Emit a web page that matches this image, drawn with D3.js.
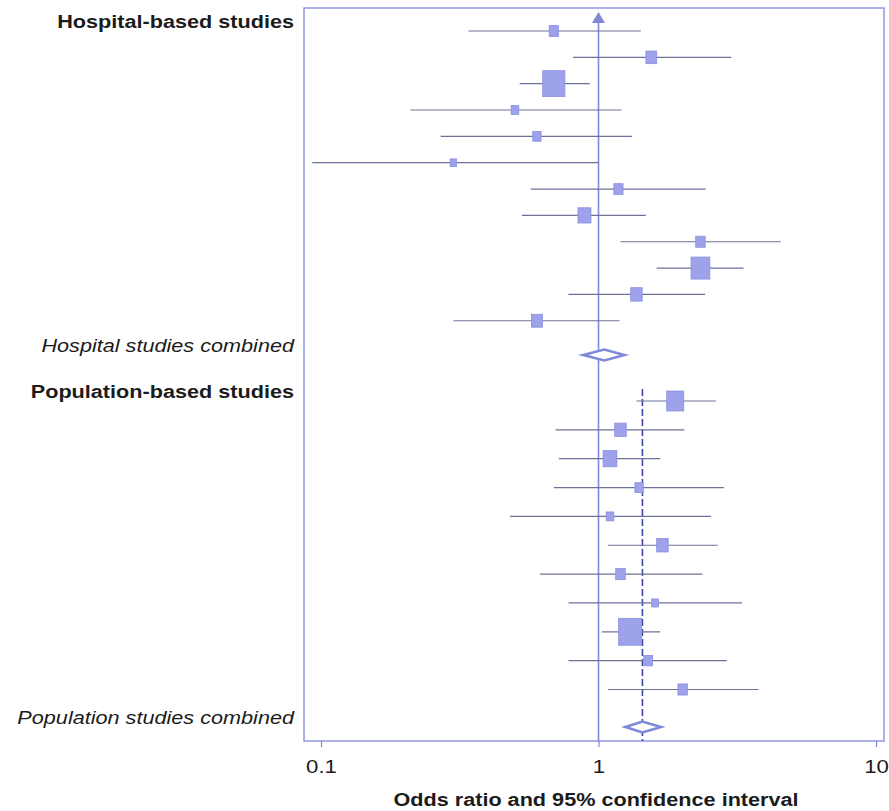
<!DOCTYPE html>
<html>
<head>
<meta charset="utf-8">
<script src="https://cdn.jsdelivr.net/npm/d3@7"></script>
<style>
  body { margin: 0; background: #fff; }
  text { font-family: "Liberation Sans", Arial, Helvetica, sans-serif; fill: #1b1b1b; }
</style>
</head>
<body>
<div id="chart"></div>
<script>
// odds ratios, 95% CI bounds and weights (%)
// hospital-based studies
const hospitalOR     = [0.69, 1.55, 0.69, 0.50, 0.60, 0.30,  1.18, 0.89, 2.33, 2.33, 1.37, 0.60]
const hospitalLower  = [0.34, 0.81, 0.52, 0.21, 0.27, 0.093, 0.57, 0.53, 1.20, 1.62, 0.78, 0.30]
const hospitalUpper  = [1.42, 3.01, 0.93, 1.21, 1.32, 1.00,  2.43, 1.48, 4.54, 3.33, 2.42, 1.19]
const hospitalWeight = [1.6,  2.2,  9.3,  1.1,  1.3,  0.8,   1.6,  3.2,  1.7,  6.7,  2.5,  2.3]
const hospitalCombined = [1.05, 0.88, 1.24] // OR, lower, upper

// population-based studies
const populationOR     = [1.89, 1.20, 1.10, 1.40, 1.10, 1.70, 1.20,  1.60, 1.30, 1.51, 2.01]
const populationLower  = [1.37, 0.70, 0.72, 0.69, 0.48, 1.08, 0.615, 0.78, 1.03, 0.78, 1.08]
const populationUpper  = [2.65, 2.04, 1.67, 2.83, 2.54, 2.69, 2.37,  3.29, 1.67, 2.90, 3.77]
const populationWeight = [5.5,  2.5,  3.6,  1.3,  1.1,  2.5,  1.7,   0.9,  10,   1.5,  1.7]
const populationCombined = [1.44, 1.25, 1.68]

const groupTitles = ["Hospital-based studies", "Population-based studies"]
const combinedTitles = ["Hospital studies combined", "Population studies combined"]
const tickValues = [0.1, 1, 10]
const axisTitle = "Odds ratio and 95% confidence interval"

// page size and the plot frame
const width = 889
const height = 811
const frame = { left: 304, right: 884, top: 8, bottom: 741 }
const labelX = 294
// text in the scan is a bit wider than Arial, so stretch it sideways
const stretch = 1.17

const blue = "#8088da"
const ciColor = "#6d7199"
const boxFill = "#9ea2ea"
const boxStroke = "#8a8fdf"

// build one table per group
function makeRows(or, lo, hi, w) {
  return or.map((d, i) => ({ or: d, lo: lo[i], hi: hi[i], w: w[i] }))
}
const groups = [
  { title: groupTitles[0], combinedTitle: combinedTitles[0], rows: makeRows(hospitalOR, hospitalLower, hospitalUpper, hospitalWeight),
    combined: hospitalCombined, top: 31, bottom: 355, dashed: false },
  { title: groupTitles[1], combinedTitle: combinedTitles[1], rows: makeRows(populationOR, populationLower, populationUpper, populationWeight),
    combined: populationCombined, top: 401, bottom: 727, dashed: true }
]

const x = d3.scaleLog()
  .domain([0.1, 10])
  .range([321, 876])

// box width follows the square root of the weight
const boxScale = d3.scaleSqrt()
  .domain([0, 10])
  .range([0, 23])

const svg = d3.select('#chart')
  .append('svg')
  .attr('width', width)
  .attr('height', height)

// frame round the plot
svg.append('rect')
  .attr('x', frame.left)
  .attr('y', frame.top)
  .attr('width', frame.right - frame.left)
  .attr('height', frame.bottom - frame.top)
  .attr('fill', 'none')
  .attr('stroke', blue)
  .attr('stroke-width', 1.3)

// line of no effect with an arrow at the top
svg.append('line')
  .attr('x1', x(1)).attr('x2', x(1))
  .attr('y1', 18).attr('y2', frame.bottom)
  .attr('stroke', blue)
  .attr('stroke-width', 1.6)

svg.append('path')
  .attr('d', `M${x(1)},12 L${x(1) - 6.5},23 L${x(1) + 6.5},23 Z`)
  .attr('fill', blue)

// stretched text helper, anchored at (tx, ty)
function addText(parent, tx, ty, str, anchor, size, weight, style) {
  parent.append('g')
    .attr('transform', `translate(${tx},${ty})`)
    .append('text')
    .attr('transform', `scale(${stretch},1)`)
    .attr('text-anchor', anchor)
    .attr('font-size', size)
    .attr('font-weight', weight)
    .attr('font-style', style)
    .text(str)
}

groups.forEach(g => {
  const n = g.rows.length
  // rows are evenly spread, with a slightly bigger gap before the combined diamond
  const y = d3.scaleLinear()
    .domain([0, n + 0.3])
    .range([g.top, g.bottom])

  const pooled = g.combined[0]

  if (g.dashed) {
    svg.append('line')
      .attr('x1', x(pooled)).attr('x2', x(pooled))
      .attr('y1', y(0) - 12).attr('y2', frame.bottom)
      .attr('stroke', '#3f48a6')
      .attr('stroke-width', 1.6)
      .attr('stroke-dasharray', '7,3')
  }

  const layer = svg.append('g')

  // confidence interval lines
  layer.selectAll('line.ci')
    .data(g.rows)
    .join('line')
    .attr('class', 'ci')
    .attr('x1', d => x(d.lo))
    .attr('x2', d => x(d.hi))
    .attr('y1', (d, i) => y(i))
    .attr('y2', (d, i) => y(i))
    .attr('stroke', ciColor)
    .attr('stroke-width', 1.2)

  // weighted boxes (slightly taller than wide, like the scan)
  layer.selectAll('rect.box')
    .data(g.rows)
    .join('rect')
    .attr('class', 'box')
    .attr('x', d => x(d.or) - boxScale(d.w) / 2)
    .attr('y', (d, i) => y(i) - boxScale(d.w) * 1.17 / 2)
    .attr('width', d => boxScale(d.w))
    .attr('height', d => boxScale(d.w) * 1.17)
    .attr('fill', boxFill)
    .attr('stroke', boxStroke)
    .attr('stroke-width', 0.8)

  // combined estimate diamond
  const cy = y(n + 0.3)
  const [c, lo, hi] = g.combined
  layer.append('path')
    .attr('d', `M${x(lo)},${cy} L${x(c)},${cy - 5.5} L${x(hi)},${cy} L${x(c)},${cy + 5.5} Z`)
    .attr('fill', '#fff')
    .attr('stroke', blue)
    .attr('stroke-width', 2.6)

  // labels on the left
  addText(svg, labelX, y(0) - 3, g.title, 'end', 18.5, 'bold', 'normal')
  addText(svg, labelX, cy - 3, g.combinedTitle, 'end', 18.5, 'normal', 'italic')
})

// x axis, only the tick marks and labels (the frame draws the line)
const xAxis = d3.axisBottom(x)
  .tickValues(tickValues)
  .tickFormat(d3.format(''))
  .tickSize(6)
  .tickPadding(13)

const axisG = svg.append('g')
  .attr('transform', `translate(0 ${frame.bottom})`)
  .call(xAxis)

axisG.select('.domain').remove()
axisG.selectAll('.tick line').attr('stroke', blue).attr('stroke-width', 1.2)
axisG.selectAll('.tick text')
  .attr('font-size', 19)
  .attr('font-family', '"Liberation Sans", Arial, sans-serif')
  .attr('fill', '#1b1b1b')
  .attr('transform', `scale(${stretch},1)`)

addText(svg, 596, 806, axisTitle, 'middle', 18.5, 'bold', 'normal')
</script>
</body>
</html>
